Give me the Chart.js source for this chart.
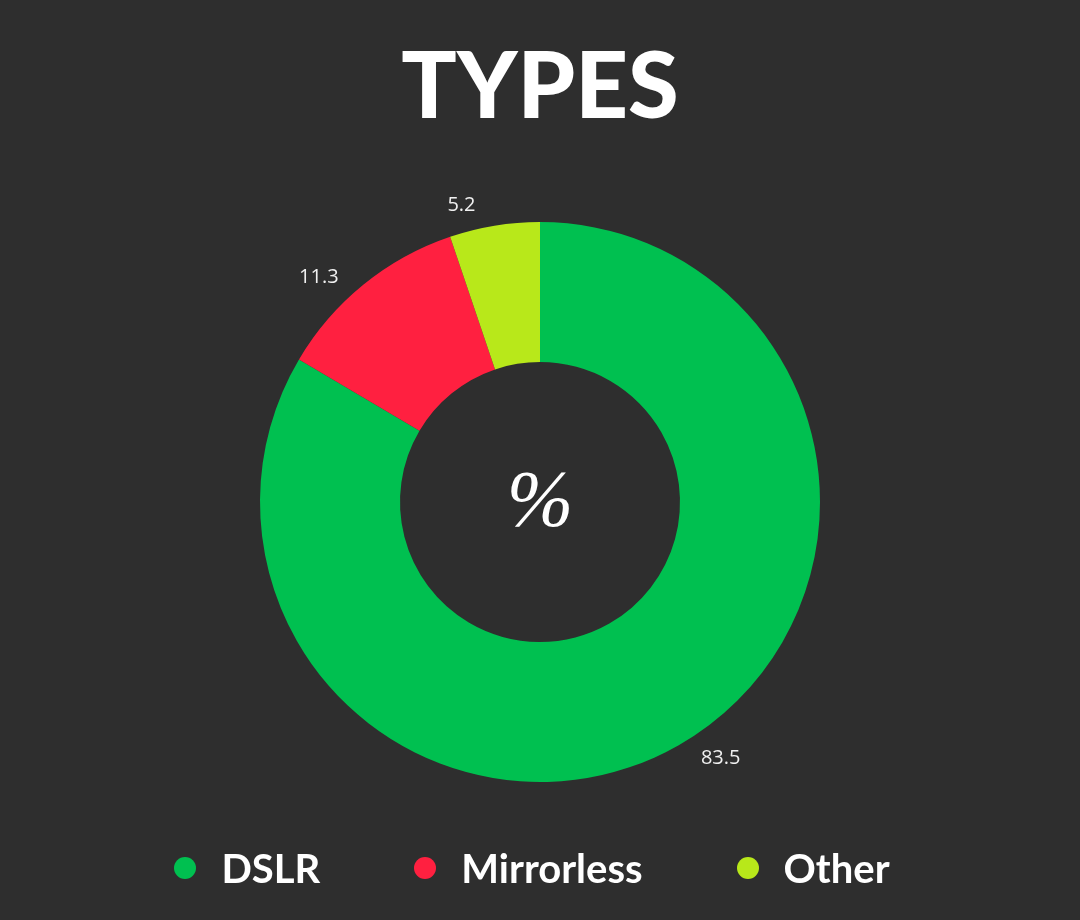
<!DOCTYPE html>
<html>
<head>
<meta charset="utf-8">
<script src="https://cdn.jsdelivr.net/npm/chart.js@4.4.1/dist/chart.umd.min.js"></script>
<style>
    html, body { margin: 0; padding: 0; background: #2e2e2e; }
    #wrap { position: relative; width: 1080px; height: 920px; }
    #legenda {
        position: absolute; left: 0; right: 0; top: 842px; height: 52px; padding-right: 16px;
        display: flex; justify-content: center; align-items: center;
        font-family: Lato, "Open Sans", sans-serif; font-weight: bold; font-size: 40px; color: #fff;
    }
    .item { display: flex; align-items: center; margin: 0 47px; }
    .bola { width: 22px; height: 22px; border-radius: 50%; margin-right: 25px; }
</style>
</head>
<body>
<div id="wrap">
    <canvas id="graficoTipos" width="1080" height="920"></canvas>
    <div id="legenda"></div>
</div>
<script>
const tipos = ["DSLR", "Mirrorless", "Other"];
const percentuais = [83.5, 11.3, 5.2];
const cores = ["#00c050", "#ff2040", "#b8e81a"];

// rótulos de valor fora do anel
const rotulosFora = {
    id: "rotulosFora",
    afterDatasetsDraw(chart) {
        const ctx = chart.ctx;
        const meta = chart.getDatasetMeta(0);
        ctx.save();
        ctx.font = "20px 'Open Sans', sans-serif";
        ctx.fillStyle = "#f0f0f0";
        ctx.textAlign = "center";
        ctx.textBaseline = "middle";
        meta.data.forEach((arc, i) => {
            const p = arc.getProps(["x", "y", "startAngle", "endAngle", "outerRadius"], true);
            const txt = percentuais[i].toFixed(1);
            const w = ctx.measureText(txt).width;
            const h = 16;
            const ang = (p.startAngle + p.endAngle) / 2 - 0.095;
            const c = Math.cos(ang), s = Math.sin(ang);
            // desloca pela metade da caixa do texto
            const extra = Math.abs(c) * w / 2 + Math.abs(s) * h / 2;
            const r = p.outerRadius + 16 + extra;
            ctx.fillText(txt, p.x + c * r, p.y + s * r);
        });
        ctx.restore();
    }
};

// símbolo no centro
const textoCentro = {
    id: "textoCentro",
    afterDatasetsDraw(chart) {
        const arc = chart.getDatasetMeta(0).data[0];
        if (!arc) return;
        const ctx = chart.ctx;
        ctx.save();
        ctx.font = "italic 80px 'Liberation Serif', serif";
        ctx.fillStyle = "#ffffff";
        ctx.textAlign = "center";
        ctx.textBaseline = "middle";
        ctx.fillText("%", arc.x, arc.y + 3);
        ctx.restore();
    }
};

const chartTipos = new Chart(document.getElementById("graficoTipos").getContext("2d"), {
    type: "doughnut",
    data: {
        labels: tipos,
        datasets: [{
            data: percentuais,
            backgroundColor: cores,
            borderWidth: 0
        }]
    },
    options: {
        responsive: false,
        animation: false,
        cutout: "50%",
        layout: { padding: { bottom: 138 } },
        plugins: {
            legend: { display: false },
            tooltip: { enabled: false },
            title: {
                display: true,
                text: "TYPES",
                color: "#ffffff",
                font: { family: "Lato", weight: 900, size: 92, lineHeight: 1 },
                padding: { top: 42, bottom: 88 }
            }
        }
    },
    plugins: [rotulosFora, textoCentro]
});

// legenda em html
const legenda = document.getElementById("legenda");
tipos.forEach((t, i) => {
    const div = document.createElement("div");
    div.className = "item";
    div.innerHTML = `<span class="bola" style="background:${cores[i]}"></span><span>${t}</span>`;
    legenda.appendChild(div);
});
</script>
</body>
</html>
